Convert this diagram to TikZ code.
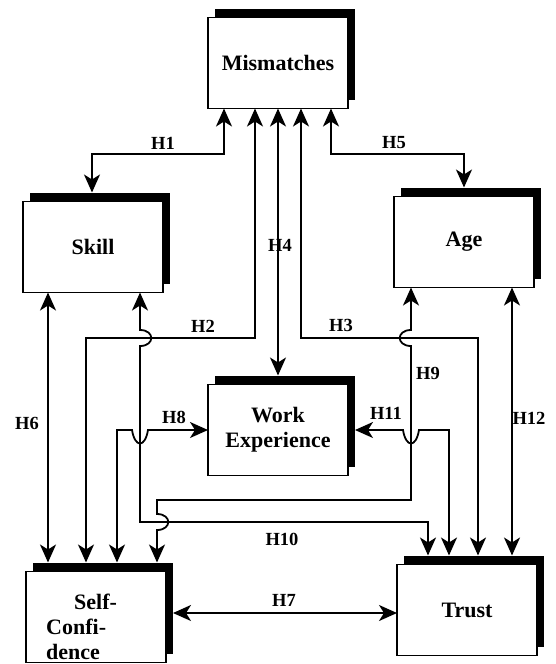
\documentclass[tikz,border=0pt]{standalone}
\usepackage{fontspec}
\setmainfont{Liberation Serif}
\usetikzlibrary{arrows.meta}
\begin{document}
\begin{tikzpicture}[x=1pt,y=-1pt,
  box/.style={draw, line width=1.8pt, fill=white, minimum width=140pt, minimum height=91pt,
    inner sep=0pt, outer sep=0pt, font=\fontsize{22}{25}\selectfont\bfseries, align=center},
  shade/.style={fill=black, minimum width=140pt, minimum height=91pt, inner sep=0pt, outer sep=0pt},
  conn/.style={line width=1.8pt,
    {Stealth[length=18pt,width=16pt,inset=5pt]}-{Stealth[length=18pt,width=16pt,inset=5pt]}},
  hl/.style={font=\fontsize{18.5}{18}\selectfont\bfseries, inner sep=0pt}
]
\useasboundingbox (0,0) rectangle (556,664);

% shadows
\node[shade] (misS)   at (285,54)  {};
\node[shade] (skillS) at (100,238) {};
\node[shade] (ageS)   at (471,233) {};
\node[shade] (workS)  at (285,421) {};
\node[shade] (selfS)  at (103,608) {};
\node[shade] (trustS) at (474,601) {};

% boxes
\node[box] (mis)   at (278,63)  {Mismatches};
\node[box] (skill) at (93,247)  {Skill};
\node[box] (age)   at (464,242) {Age};
\node[box] (work)  at (278,430) {Work\\Experience};
\node[box] (self)  at (96,617)  {};
\node[box] (trust) at (467,610) {Trust};
\node[font=\fontsize{22}{25}\selectfont\bfseries, align=left, anchor=west, inner sep=0pt]
  (selftxt) at (46,627) {\hspace*{28pt}Self-\\Confi-\\dence};

% connectors
\draw[conn] (224,0 |- mis.south) -- (224,154) -- (92,154) -- (92,0 |- skillS.north);
\draw[conn] (331,0 |- mis.south) -- (331,154) -- (464,154) -- (464,0 |- ageS.north);
\draw[conn] (255,0 |- mis.south) -- (255,338) -- (86,338) -- (86,0 |- selfS.north);
\draw[conn] (278,0 |- mis.south) -- (278,0 |- workS.north);
\draw[conn] (301,0 |- mis.south) -- (301,338) -- (478,338) -- (478,0 |- trustS.north);
\draw[conn] (48,0 |- skill.south) -- (48,0 |- selfS.north);
\draw[conn] (512,0 |- age.south) -- (512,0 |- trustS.north);
\draw[conn] (140,0 |- skill.south) -- (140,330) .. controls (155,330) and (155,346) .. (140,346)
  -- (140,522) -- (428,522) -- (428,0 |- trustS.north);
\draw[conn] (411,0 |- age.south) -- (411,330) .. controls (396,330) and (396,346) .. (411,346)
  -- (411,500) -- (157,500) -- (157,514) .. controls (172,514) and (172,530) .. (157,530)
  -- (157,0 |- selfS.north);
\draw[conn] (117,0 |- selfS.north) -- (117,430) -- (132,430) .. controls (135,448) and (145,448) .. (148,430)
  -- (work.west);
\draw[conn] (workS.east |- work.west) -- (403,430) .. controls (406,448) and (416,448) .. (419,430)
  -- (449,430) -- (449,0 |- trustS.north);
\draw[conn] (selfS.east |- 0,613) -- (trust.west |- 0,613);

% labels
\node[hl] (l1)  at (163,143) {H1};
\node[hl] (l5)  at (394,143) {H5};
\node[hl] (l2)  at (203,326) {H2};
\node[hl] (l3)  at (341,325) {H3};
\node[hl] (l4)  at (280,245) {H4};
\node[hl] (l6)  at (27,423)  {H6};
\node[hl] (l7)  at (284,600) {H7};
\node[hl] (l8)  at (174,417) {H8};
\node[hl] (l9)  at (428,373) {H9};
\node[hl] (l10) at (282,539) {H10};
\node[hl] (l11) at (386,413) {H11};
\node[hl] (l12) at (529,418) {H12};
\end{tikzpicture}
\end{document}
